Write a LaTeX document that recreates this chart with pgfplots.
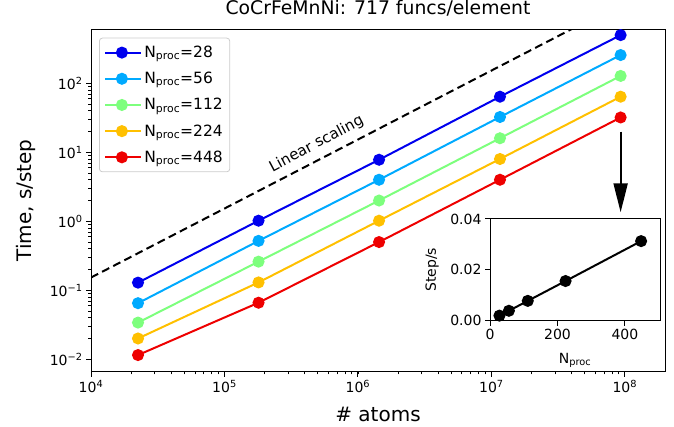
\documentclass[border=0pt]{standalone}
\usepackage{pgfplots}
\pgfplotsset{compat=1.18}
\usepackage{fontspec}
\setmainfont{DejaVu Sans}
\usetikzlibrary{arrows.meta}

\definecolor{c28}{RGB}{0,0,238}
\definecolor{c56}{RGB}{0,170,255}
\definecolor{c112}{RGB}{125,255,125}
\definecolor{c224}{RGB}{255,192,0}
\definecolor{c448}{RGB}{238,0,0}

\newcommand{\tickfont}{\fontsize{14bp}{16bp}\selectfont}
\newcommand{\legfont}{\fontsize{15.5bp}{17bp}\selectfont}

\pgfplotsset{
  series/.style={color=#1, line width=2bp, mark=*, mark size=5bp,
    mark options={solid, fill=#1, draw=#1}},
}

\begin{document}
\begin{tikzpicture}
\begin{axis}[
  name=main, at={(0,0)}, anchor=south west,
  scale only axis, width=574bp, height=342.4bp,
  xmode=log, ymode=log,
  xmin=1e4, xmax=2e8, ymin=0.0066, ymax=607,
  axis line style={line width=1bp},
  tick align=outside, tick pos=left,
  major tick length=5bp, minor tick length=2.8bp,
  every tick/.style={black, line width=1bp},
  minor tick style={black, line width=0.7bp},
  xtick={1e4,1e5,1e6,1e7,1e8},
  xticklabels={10\textsuperscript{4},10\textsuperscript{5},10\textsuperscript{6},10\textsuperscript{7},10\textsuperscript{8}},
  ytick={1e-2,1e-1,1e0,1e1,1e2},
  yticklabels={10\textsuperscript{−2},10\textsuperscript{−1},10\textsuperscript{0},10\textsuperscript{1},10\textsuperscript{2}},
  ticklabel style={font=\tickfont},
  xlabel={\# atoms},
  ylabel={Time, s/step},
  xlabel style={font=\fontsize{20bp}{22bp}\selectfont, at={(axis description cs:0.5,-0.144)}, anchor=base},
  ylabel style={font=\fontsize{20bp}{22bp}\selectfont, at={(axis description cs:-0.1033,0.5)}, anchor=base},
  title={\fontsize{18.8bp}{21bp}\selectfont CoCrFeMnNi: 717 funcs/element},
  title style={at={(axis description cs:0.5,1.027)}, anchor=base},
  legend cell align=left,
  legend style={at={(axis description cs:0,1)}, anchor=north west,
    xshift=8bp, yshift=-8.4bp, draw=black!20, line width=0.8bp,
    rounded corners=3bp, font=\legfont, row sep=9.2bp,
    inner xsep=5bp, inner ysep=6bp},
  legend image code/.code={\draw[mark repeat=2,mark phase=2]
    plot coordinates {(0bp,0bp)(16.5bp,0bp)(33bp,0bp)};
    \path (0bp,0bp) -- (36bp,0bp);},
]
% ideal linear scaling reference
\addplot[black, line width=2bp, dash pattern=on 8bp off 4.5bp, forget plot]
  coordinates {(1e4,0.153) (2e8,3060)};
\node[rotate=28, font=\fontsize{15bp}{17bp}\selectfont] at (axis cs:4.9e5,13.2) {Linear scaling};

\addplot[series=c28] coordinates
  {(22500,0.129) (1.8e5,1.02) (1.44e6,7.8) (1.16e7,64) (9.3e7,500)};
\addlegendentry{N\textsubscript{proc}=28}
\addplot[series=c56] coordinates
  {(22500,0.065) (1.8e5,0.52) (1.44e6,4.0) (1.16e7,32.5) (9.3e7,257)};
\addlegendentry{N\textsubscript{proc}=56}
\addplot[series=c112] coordinates
  {(22500,0.034) (1.8e5,0.26) (1.44e6,2.0) (1.16e7,16) (9.3e7,128)};
\addlegendentry{N\textsubscript{proc}=112}
\addplot[series=c224] coordinates
  {(22500,0.020) (1.8e5,0.13) (1.44e6,1.02) (1.16e7,8.0) (9.3e7,64)};
\addlegendentry{N\textsubscript{proc}=224}
\addplot[series=c448] coordinates
  {(22500,0.0115) (1.8e5,0.066) (1.44e6,0.50) (1.16e7,4.0) (9.3e7,32)};
\addlegendentry{N\textsubscript{proc}=448}

\draw[line width=2bp, -{Triangle[width=14bp,length=29bp]}]
  (axis cs:9.3e7,20) -- (axis cs:9.3e7,1.35);
\end{axis}

% throughput of the largest system versus process count
\begin{axis}[
  at={(399bp,51bp)}, anchor=south west,
  scale only axis, width=170bp, height=101.7bp,
  xmin=0, xmax=504, ymin=0, ymax=0.04,
  axis background/.style={fill=white},
  axis line style={line width=1bp},
  tick align=outside, tick pos=left,
  major tick length=5bp,
  every tick/.style={black, line width=1bp},
  xtick={0,200,400}, ytick={0,0.02,0.04},
  scaled y ticks=false,
  /pgf/number format/assume math mode=true,
  yticklabel style={/pgf/number format/fixed, /pgf/number format/fixed zerofill, /pgf/number format/precision=2},
  ticklabel style={font=\tickfont},
  xlabel={N\textsubscript{proc}},
  ylabel={Step/s},
  xlabel style={font=\tickfont, at={(axis description cs:0.5,-0.419)}, anchor=base},
  ylabel style={font=\tickfont, at={(axis description cs:-0.318,0.5)}, anchor=base},
]
\addplot[black, line width=2bp, mark=*, mark size=5bp, mark options={fill=black}]
  coordinates {(28,0.0020) (56,0.0039) (112,0.0078) (224,0.0156) (448,0.0313)};
\end{axis}

\pgfresetboundingbox
\path (-91bp,-55.3bp) rectangle (583bp,371.7bp);
\end{tikzpicture}
\end{document}
